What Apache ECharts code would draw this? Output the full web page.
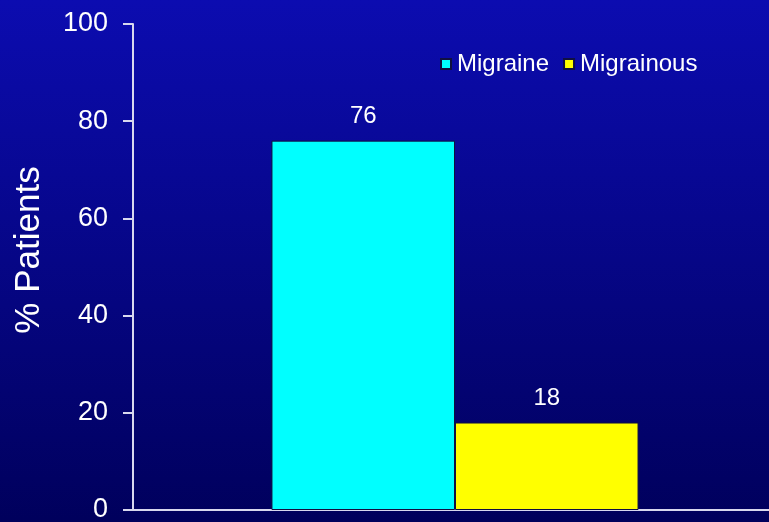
<!DOCTYPE html>
<html>
<head>
<meta charset="utf-8">
<style>
  html, body { margin: 0; padding: 0; background: #000070; }
  #chart { width: 769px; height: 522px; }
</style>
<script src="https://cdn.jsdelivr.net/npm/echarts@6/dist/echarts.min.js"></script>
</head>
<body>
<div id="chart"></div>
<script>
// Share of patients by diagnosis
const categories = [''];
const seriesNames = ['Migraine', 'Migrainous'];
const migraineValues = [76];
const migrainousValues = [18];
const yTicks = [0, 20, 40, 60, 80, 100];

const chart = echarts.init(document.getElementById('chart'), null, { renderer: 'canvas' });

const FONT = 'Liberation Sans, Arial, sans-serif';

const labelStyle = {
  show: true,
  position: 'top',
  distance: 12,
  color: '#ffffff',
  fontFamily: FONT,
  fontSize: 24
};

chart.setOption({
  backgroundColor: new echarts.graphic.LinearGradient(0, 0, 0, 1, [
    { offset: 0, color: '#0c0cb0' },
    { offset: 1, color: '#00005c' }
  ]),
  animation: false,
  grid: { left: 133, width: 644, top: 24, bottom: 12, outerBoundsMode: 'none', containLabel: false },
  legend: {
    data: seriesNames,
    top: 47,
    left: 435,
    itemWidth: 10,
    itemHeight: 10,
    itemGap: 14,
    icon: 'rect',
    textStyle: {
      color: '#ffffff',
      fontFamily: FONT,
      fontSize: 24,
      padding: [0, 0, 0, 1]
    }
  },
  xAxis: {
    type: 'category',
    data: categories,
    axisLine: { show: true, lineStyle: { color: '#d8d8ee', width: 2 } },
    axisTick: { show: false },
    axisLabel: { show: false }
  },
  yAxis: {
    type: 'value',
    min: yTicks[0],
    max: yTicks[yTicks.length - 1],
    interval: yTicks[1] - yTicks[0],
    name: '% Patients',
    nameLocation: 'middle',
    nameGap: 86,
    nameTextStyle: {
      color: '#ffffff',
      fontFamily: FONT,
      fontSize: 35,
      padding: [0, 0, 0, 34]
    },
    axisLine: { show: true, lineStyle: { color: '#d8d8ee', width: 2 } },
    axisTick: { show: true, length: 10, inside: false, lineStyle: { color: '#d8d8ee', width: 2 } },
    axisLabel: {
      color: '#ffffff',
      fontFamily: FONT,
      fontSize: 27,
      margin: 25
    },
    splitLine: { show: false }
  },
  series: [
    {
      name: seriesNames[0],
      type: 'bar',
      data: migraineValues,
      barCategoryGap: '43%',
      barGap: '0%',
      itemStyle: { color: '#00ffff', borderColor: '#101040', borderWidth: 1 },
      label: labelStyle
    },
    {
      name: seriesNames[1],
      type: 'bar',
      data: migrainousValues,
      barCategoryGap: '43%',
      barGap: '0%',
      itemStyle: { color: '#ffff00', borderColor: '#101040', borderWidth: 1 },
      label: labelStyle
    }
  ]
});
</script>
</body>
</html>
